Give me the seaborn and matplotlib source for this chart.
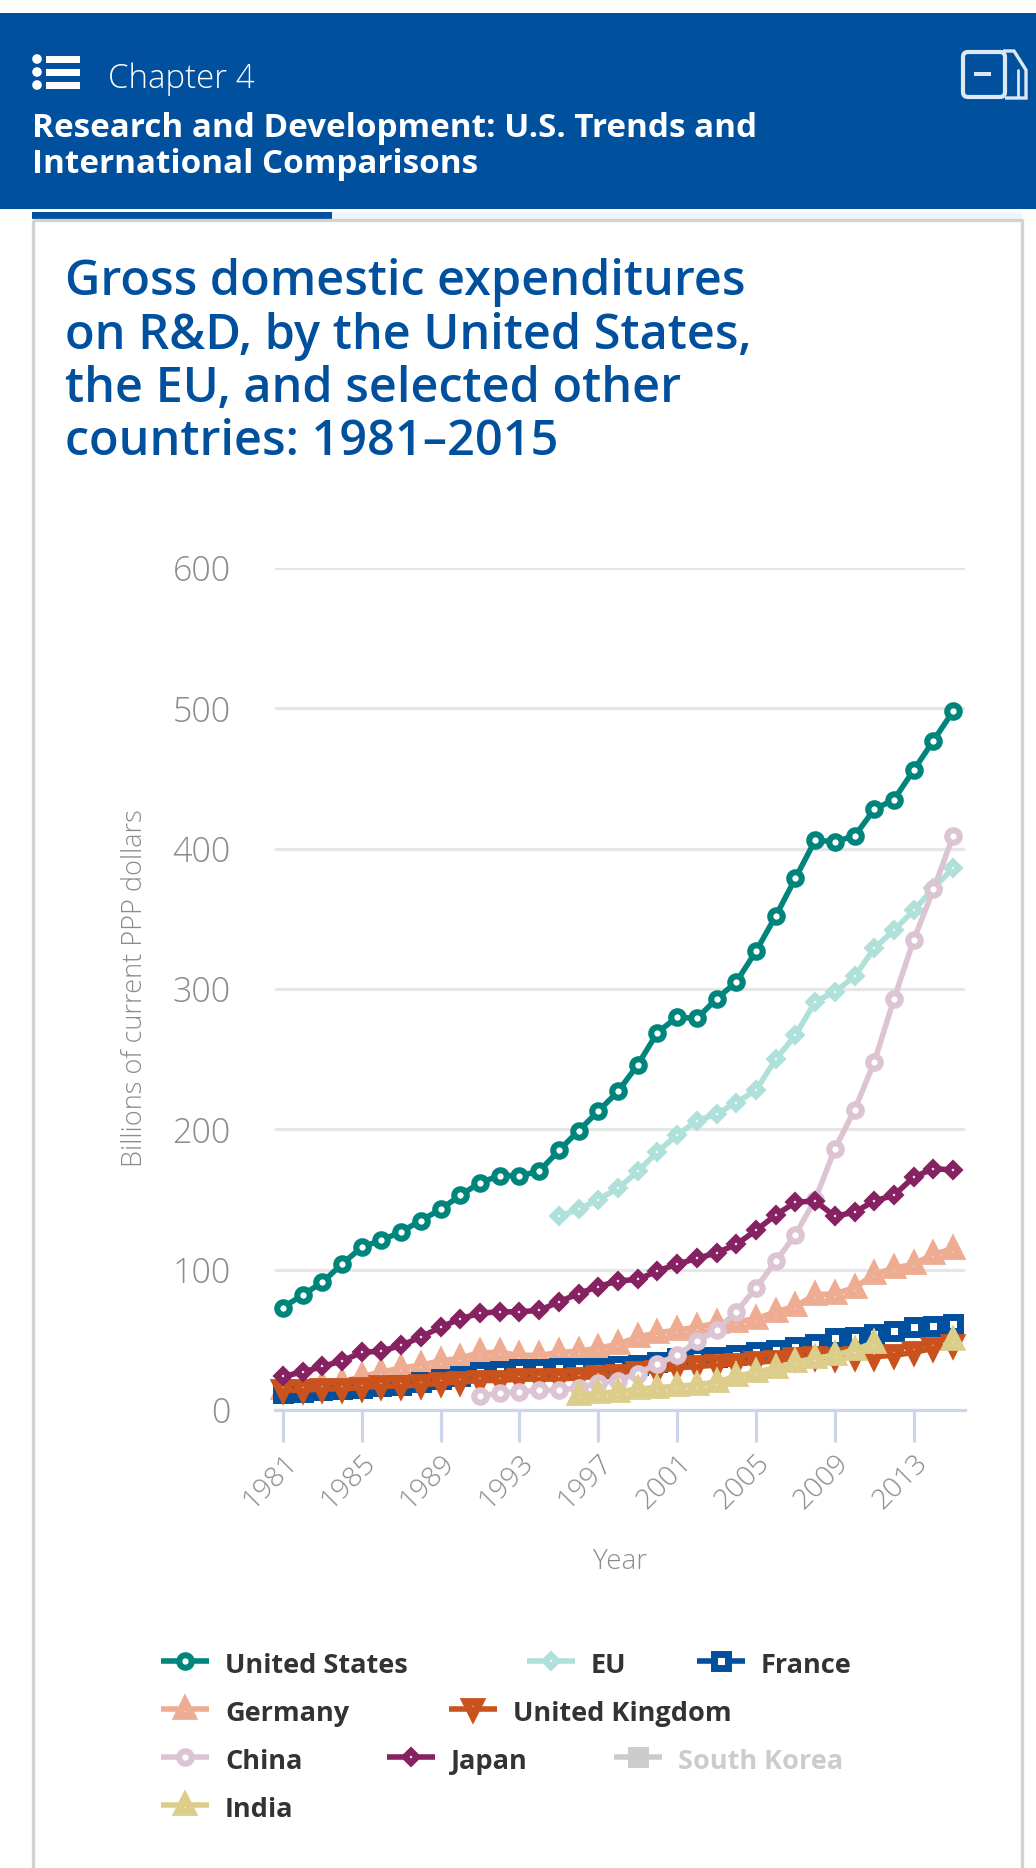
"""
Gross domestic expenditures on R&D, recreated with seaborn
"""
import matplotlib
matplotlib.use('Agg')
import matplotlib.pyplot as plt
import numpy as np
import pandas as pd
import seaborn as sns
from matplotlib.lines import Line2D
from matplotlib.patches import Circle, FancyBboxPatch, Polygon, Rectangle

# Data, billions of current PPP dollars
years = list(range(1981, 2016))
us = [73, 82, 91, 104, 116, 121, 127, 135, 143, 153, 162, 167, 167, 170, 185, 199, 213, 227, 246, 269,
      280, 279, 293, 305, 327, 352, 379, 406, 405, 409, 428, 435, 456, 477, 498]
eu_years = list(range(1995, 2016))
eu = [138, 143, 150, 158, 170, 184, 196, 206, 211, 219, 228, 250, 267, 291, 298, 309, 329, 342, 356, 372, 386]
france = [12, 13, 14, 15, 16, 17, 18, 20, 22, 24, 27, 28, 29, 29, 30, 30, 30, 31, 32, 34,
          37, 38, 38, 39, 41, 43, 45, 47, 51, 52, 54, 56, 59, 60, 61]
germany = [15, 16, 18, 20, 24, 27, 30, 32, 35, 37, 41, 41, 39, 39, 41, 42, 44, 47, 52, 55,
           57, 59, 62, 63, 65, 70, 74, 82, 83, 87, 97, 101, 104, 111, 115]
uk = [14, 14, 15, 15, 16, 17, 17, 18, 19, 20, 21, 21, 22, 22, 22, 23, 24, 25, 27, 28,
      30, 31, 32, 33, 34, 35, 37, 38, 37, 38, 38, 39, 41, 44, 46]
china_years = list(range(1991, 2016))
china = [10, 12, 13, 14, 14, 16, 19, 21, 26, 33, 39, 49, 57, 70, 87, 106, 125, 150, 186, 214, 248, 293, 335, 371, 409]
japan = [24, 27, 31, 35, 41, 42, 46, 52, 59, 65, 69, 70, 70, 71, 77, 83, 88, 92, 93, 99,
         104, 108, 112, 118, 128, 139, 148, 149, 138, 141, 149, 153, 166, 172, 171]
india_years = list(range(1996, 2012)) + [2015]
india = [11, 12, 13, 15, 16, 17, 18, 20, 24, 27, 30, 34, 37, 39, 43, 48, 50]
india_segment = [0] * 16 + [1]

BLUE = '#00509e'
TEAL = '#00857c'
EU_C = '#b0e0da'
GERMANY_C = '#eead92'
UK_C = '#c9521d'
CHINA_C = '#dcc4d2'
JAPAN_C = '#862261'
INDIA_C = '#ddcd8a'
KOREA_C = '#cccccc'
GREY_TEXT = '#8c8c8c'

# marker, size, edge width
CIRCLE = ('o', 9, 4.4)
DIAMOND = ('D', 6.6, 4.6)
SQUARE = ('s', 9.5, 5)
TRI_UP = ('^', 9.5, 5.6)
TRI_DOWN = ('v', 9.5, 5.6)

W, H = 1036, 1868


def to_frame(x, y, segment=None):
    return pd.DataFrame({'year': x, 'value': y, 'segment': segment if segment else [0] * len(x)})


def draw_series(ax, frame, color, style, lw=4):
    marker, size, edge = style
    sns.lineplot(data=frame, x='year', y='value', units='segment', estimator=None, ax=ax,
                 color=color, linewidth=lw, marker=marker, markersize=size,
                 markeredgewidth=edge, markeredgecolor=color,
                 markerfacecolor='white', clip_on=False)


sns.set_style('white')
plt.rcParams['font.family'] = ['Open Sans', 'DejaVu Sans']

fig = plt.figure(figsize=(W / 100, H / 100), dpi=100)

# Page furniture in pixel coordinates
bg = fig.add_axes([0, 0, 1, 1])
bg.set_xlim(0, W)
bg.set_ylim(H, 0)
bg.axis('off')
bg.add_patch(Rectangle((0, 13), W, 196, color=BLUE, lw=0))
bg.add_patch(Rectangle((32, 212), 990, 7, color='#eef5fd', lw=0))
bg.add_patch(Rectangle((32, 212), 300, 7, color=BLUE, lw=0))
bg.add_patch(Rectangle((33, 220), 989, H, fill=False, edgecolor='#d2d2d2', lw=2.4))

# list icon
for yy in (59, 72, 85):
    bg.add_patch(Circle((37, yy), 4.8, color='white', lw=0))
    bg.add_patch(Rectangle((46, yy - 3.5), 34, 7, color='white', lw=0))

# book icon
bg.add_patch(FancyBboxPatch((963, 52), 42, 45, boxstyle='round,pad=0,rounding_size=5',
                            fill=False, edgecolor='#dce8f4', lw=3))
bg.add_patch(Rectangle((974, 72), 17, 4, color='#dce8f4', lw=0))
bg.add_patch(Polygon([(1003, 51), (1014, 51), (1026, 70), (1026, 98), (1005, 98)], closed=False,
                     fill=False, edgecolor='#dce8f4', lw=2.4))
bg.plot([1018, 1018], [70, 97], color='#dce8f4', lw=2)

bg.text(108, 88, 'Chapter 4', color='white', fontsize=23.8, fontweight='light', va='baseline')
bg.text(32, 137, 'Research and Development: U.S. Trends and', color='white', fontsize=23.95,
        fontweight='bold', va='baseline')
bg.text(32, 173, 'International Comparisons', color='white', fontsize=23.95,
        fontweight='bold', va='baseline')

for yy, line in zip((295, 349, 402, 455), ('Gross domestic expenditures', 'on R&D, by the United States,',
                                           'the EU, and selected other', 'countries: 1981–2015')):
    bg.text(65, yy, line, color=BLUE, fontsize=35, fontweight='semibold', va='baseline')

# Chart
left, right, top, bottom = 275, 965, 568, 1410
ax = fig.add_axes([left / W, 1 - bottom / H, (right - left) / W, (bottom - top) / H])
ax.patch.set_alpha(0)

draw_series(ax, to_frame(years, us), TEAL, CIRCLE)
draw_series(ax, to_frame(eu_years, eu), EU_C, DIAMOND)
draw_series(ax, to_frame(years, germany), GERMANY_C, TRI_UP)
draw_series(ax, to_frame(years, france), BLUE, SQUARE)
draw_series(ax, to_frame(years, uk), UK_C, TRI_DOWN)
draw_series(ax, to_frame(china_years, china), CHINA_C, CIRCLE)
draw_series(ax, to_frame(years, japan), JAPAN_C, DIAMOND)
draw_series(ax, to_frame(india_years, india, india_segment), INDIA_C, TRI_UP)

ax.set_xlim(1980.6, 2015.6)
ax.set_ylim(0, 600)
ax.set_yticks(range(0, 601, 100))
ax.set_xticks(range(1981, 2015, 4))
ax.grid(axis='y', color='#e6e6e6', linewidth=2.3)
ax.grid(axis='x', visible=False)
ax.set_axisbelow(True)
sns.despine(ax=ax, left=True, top=True, right=True)
ax.spines['bottom'].set_color('#ccd6eb')
ax.spines['bottom'].set_linewidth(2.3)
ax.tick_params(axis='x', length=23, width=2.3, color='#ccd6eb', bottom=True, pad=5,
               labelsize=20.5, labelcolor=GREY_TEXT)
ax.tick_params(axis='y', length=0, pad=32, labelsize=24.5, labelcolor=GREY_TEXT)
for label in ax.get_xticklabels():
    label.set_rotation(45)
    label.set_ha('right')
    label.set_rotation_mode('anchor')
for label in ax.get_xticklabels() + ax.get_yticklabels():
    label.set_fontweight('light')
ax.set_xlabel('')
ax.set_ylabel('')

bg.text(135, 988, 'Billions of current PPP dollars', color=GREY_TEXT, fontsize=19.5, fontweight='light',
        rotation=90, ha='center', va='center')
bg.text(620, 1562, 'Year', color=GREY_TEXT, fontsize=20, fontweight='light', ha='center', va='center')

# Legend rows laid out as on the page
legend_items = [
    ('United States', 161, 1661, TEAL, CIRCLE),
    ('EU', 527, 1661, EU_C, DIAMOND),
    ('France', 697, 1661, BLUE, SQUARE),
    ('Germany', 161, 1709, GERMANY_C, TRI_UP),
    ('United Kingdom', 449, 1709, UK_C, TRI_DOWN),
    ('China', 161, 1757, CHINA_C, CIRCLE),
    ('Japan', 387, 1757, JAPAN_C, DIAMOND),
    ('South Korea', 614, 1757, KOREA_C, SQUARE),
    ('India', 161, 1805, INDIA_C, TRI_UP),
]
for name, x0, yy, color, (marker, size, edge) in legend_items:
    bg.add_line(Line2D([x0, x0 + 48], [yy, yy], color=color, lw=4, solid_capstyle='butt'))
    face = color if name == 'South Korea' else 'white'
    bg.add_line(Line2D([x0 + 24], [yy], color=color, marker=marker, markersize=size, markeredgewidth=edge,
                       markeredgecolor=color, markerfacecolor=face))
    bg.text(x0 + 64, yy + 5, name, color=KOREA_C if name == 'South Korea' else '#333333', fontsize=19.5,
            fontweight='bold', va='center')

plt.savefig('out.png', dpi=100)
